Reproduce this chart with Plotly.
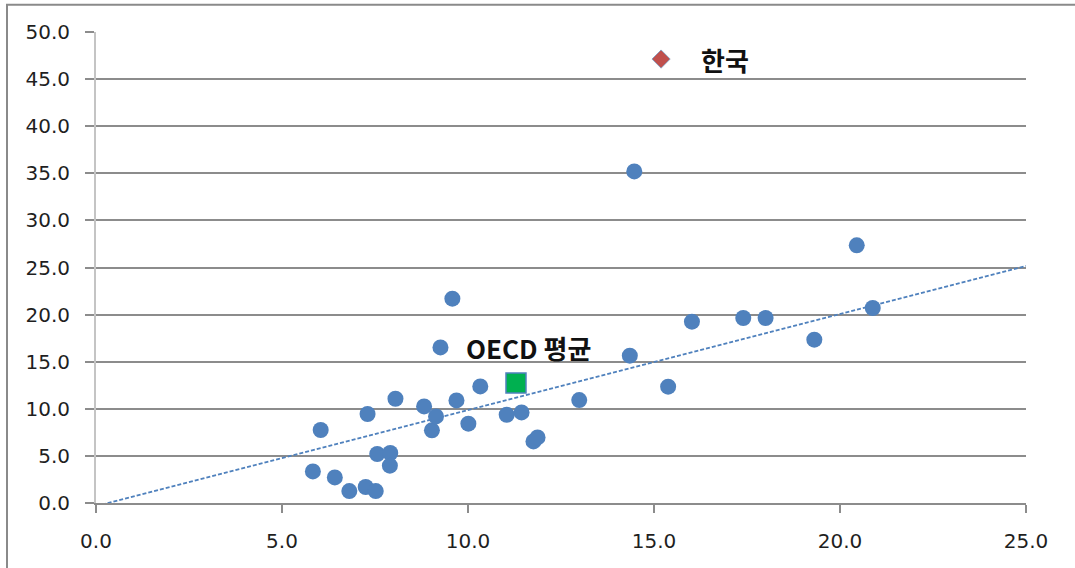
import plotly.graph_objects as go

# Country data (x, y)
country_x = [5.83, 6.04, 6.42, 6.81, 7.25, 7.52, 7.30, 7.56, 7.91, 7.90,
             8.05, 8.82, 9.03, 9.14, 9.26, 9.58, 9.69, 10.01, 10.33, 11.04,
             11.44, 11.76, 11.87, 12.99, 14.35, 14.47, 15.38, 16.02, 17.40, 18.00,
             19.31, 20.45, 20.88]
country_y = [3.35, 7.75, 2.72, 1.27, 1.70, 1.27, 9.45, 5.20, 5.31, 3.96,
             11.07, 10.25, 7.71, 9.19, 16.52, 21.69, 10.89, 8.42, 12.38, 9.37,
             9.62, 6.54, 6.96, 10.93, 15.64, 35.20, 12.35, 19.25, 19.64, 19.64,
             17.34, 27.35, 20.70]

korea_x = [15.19]
korea_y = [47.13]
korea_label = "한국"

oecd_x = [11.29]
oecd_y = [12.74]
oecd_label = "OECD 평균"

trend_slope = 1.02
trend_intercept = -0.34
trend_x = [0.0, 25.0]

x_ticks = [0, 5, 10, 15, 20, 25]
y_ticks = [0, 5, 10, 15, 20, 25, 30, 35, 40, 45, 50]

BLUE = "#4F81BD"
GRID = "#8c8c8c"

fig = go.Figure()

fig.add_trace(go.Scatter(
    x=trend_x, y=[trend_slope * v + trend_intercept for v in trend_x],
    mode="lines", line=dict(color=BLUE, width=1.8, dash="4px,2px"),
    hoverinfo="skip"))

fig.add_trace(go.Scatter(
    x=country_x, y=country_y, mode="markers",
    marker=dict(symbol="circle", size=16, color=BLUE, line=dict(width=0))))

fig.add_trace(go.Scatter(
    x=oecd_x, y=oecd_y, mode="markers",
    marker=dict(symbol="square", size=20, color="#00B050",
                line=dict(width=1.5, color=BLUE))))

fig.add_trace(go.Scatter(
    x=korea_x, y=korea_y, mode="markers",
    marker=dict(symbol="diamond", size=14, color="#C0504D",
                line=dict(width=1, color="#8E9EBB"))))

label_font = dict(family="Noto Sans CJK KR", size=26, color="#111111")
fig.add_annotation(x=9.9, y=16.49, text="<b>" + oecd_label + "</b>",
                   showarrow=False, xanchor="left", yanchor="middle",
                   font=label_font)
fig.add_annotation(x=16.2, y=47.06, text="<b>" + korea_label + "</b>",
                   showarrow=False, xanchor="left", yanchor="middle",
                   font=label_font)

# outer chart border
fig.add_shape(type="rect", xref="paper", yref="paper",
              x0=-0.0957, x1=1.06, y0=-0.16, y1=1.058,
              line=dict(color="#8a8a8a", width=2), fillcolor="rgba(0,0,0,0)",
              layer="above")

tick_font = dict(family="DejaVu Sans", size=20, color="#1f1f1f")

fig.update_layout(
    width=1075, height=568,
    margin=dict(l=96, r=49, t=32, b=65),
    paper_bgcolor="white", plot_bgcolor="white",
    showlegend=False,
    xaxis=dict(range=[0, 25], tickvals=x_ticks,
               ticktext=[f"{v:.1f}" for v in x_ticks],
               showgrid=False, zeroline=False,
               showline=True, linecolor=GRID, linewidth=1.5,
               ticks="outside", ticklen=8, tickwidth=1.5, tickcolor=GRID,
               tickfont=tick_font, ticklabelstandoff=11),
    yaxis=dict(range=[0, 50], tickvals=y_ticks,
               ticktext=[f"{v:.1f}" for v in y_ticks],
               showgrid=True, gridcolor=GRID, gridwidth=1.5, zeroline=False,
               showline=True, linecolor="#c4c4c4", linewidth=2,
               ticks="outside", ticklen=9, tickwidth=1.5, tickcolor=GRID,
               tickfont=tick_font, ticklabelstandoff=11),
)

fig.write_html("out.html",
               config={"displayModeBar": False},
               post_script="document.body.style.margin='0px';"
                           "document.body.style.overflow='hidden';")
